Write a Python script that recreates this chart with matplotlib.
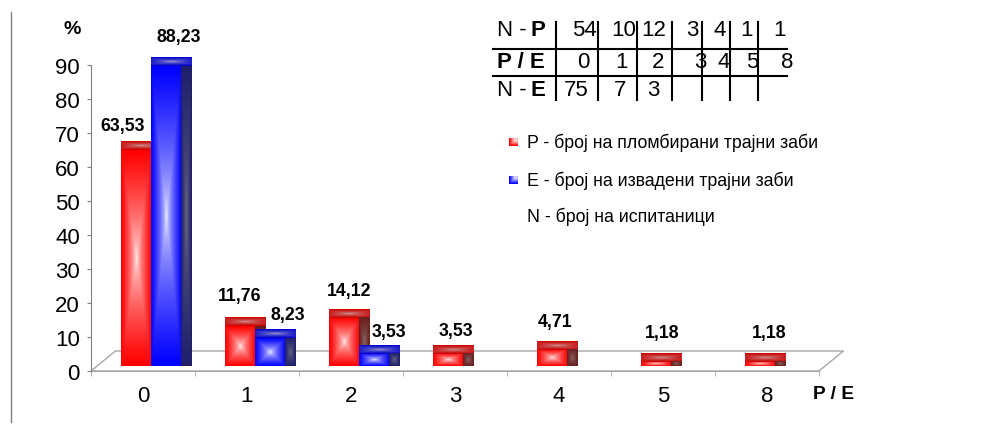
import numpy as np
import matplotlib
matplotlib.use("Agg")
import matplotlib.pyplot as plt
from matplotlib.patches import Polygon
from matplotlib.lines import Line2D

plt.rcParams["font.family"] = ["Liberation Sans", "DejaVu Sans"]

CATEGORIES = ["0", "1", "2", "3", "4", "5", "8"]
P_VALUES = [63.53, 11.76, 14.12, 3.53, 4.71, 1.18, 1.18]
E_VALUES = [88.23, 8.23, 3.53]
N_P = [54, 10, 12, 3, 4, 1, 1]
N_E = [75, 7, 3]
LEGEND_LABELS = [
    "P - број на пломбирани трајни заби",
    "E - број на извадени трајни заби",
    "N - број на испитаници",
]

W, H = 1003, 427
CAT_PX = 104.0    # width of one category on the front edge
VAL_PX = 3.4      # pixels per percent
AX_L, AX_R, AX_T, AX_B = 91, 870, 15, 372

fig = plt.figure(figsize=(W / 100, H / 100), dpi=100)


def fx(x):
    return x / W


def fy(y):
    return 1 - y / H


ax = fig.add_axes([fx(AX_L), fy(AX_B), (AX_R - AX_L) / W, (AX_B - AX_T) / H])
ax.set_xlim(-0.5, -0.5 + (AX_R - AX_L) / CAT_PX)
ax.set_ylim(0, (AX_B - AX_T) / VAL_PX)
ax.set_autoscale_on(False)

# floor depth vector and bar depth range (fractions of floor depth)
DX = 24.5 / CAT_PX
DY = 20.0 / VAL_PX
D0, D1 = 0.25, 0.67
BAR_W = 0.29
OFFSETS = [-0.275, 0.015]
BASES = [np.array([1.0, 0.0, 0.0]), np.array([0.0, 0.0, 1.0])]
n_cat = len(CATEGORIES)

# floor
floor = Polygon([(-0.5, 0), (n_cat - 0.5, 0), (n_cat - 0.5 + DX, DY), (-0.5 + DX, DY)],
                closed=True, facecolor="white", edgecolor="#a6a6a6", lw=1.0,
                zorder=1, clip_on=False)
ax.add_patch(floor)


def shade_rect(x0, y0, w, h, edge, centre, z, ku=1.0, kv=1.0, gamma=0.6, nx=40, ny=80):
    """Fill a rectangle with a from-centre gradient (centre colour in the middle)."""
    u, v = np.meshgrid(np.linspace(-1, 1, nx), np.linspace(-1, 1, ny))
    d = np.clip(np.maximum(np.abs(u) * ku, np.abs(v) * kv), 0, 1)
    g = (d ** gamma)[..., None]
    rgb = edge * g + centre * (1 - g)
    ax.imshow(np.clip(rgb, 0, 1), extent=[x0, x0 + w, y0, y0 + h], origin="lower",
              aspect="auto", interpolation="bilinear", zorder=z)


def draw_bar(x_left, value, base, z):
    bx = x_left + D0 * DX
    by = D0 * DY
    dxb = (D1 - D0) * DX
    dyb = (D1 - D0) * DY
    # front
    shade_rect(bx, by, BAR_W, value, base, np.ones(3), z)
    # top band
    shade_rect(bx, by + value, BAR_W + dxb, dyb,
               base * 0.8, 0.72 + base * 0.06, z, ku=0.7, gamma=0.5, ny=12)
    # right side
    shade_rect(bx + BAR_W, by, dxb, value,
               base * 0.3 + 0.12, 0.45 + base * 0.08, z, nx=12)


for s, values in enumerate([P_VALUES, E_VALUES]):
    for i, v in enumerate(values):
        draw_bar(i + OFFSETS[s], v, BASES[s], 3 + s)

# value labels (nudges in pixels from the category centre / top face)
P_NUDGE = [(-20, 16), (-7, 22), (-1.5, 19), (0.5, 15), (-3.5, 20), (-1, 21), (2, 21)]
E_NUDGE = [(36, 21), (41, 15), (38, 14.5)]
for values, nudges in [(P_VALUES, P_NUDGE), (E_VALUES, E_NUDGE)]:
    for i, v in enumerate(values):
        dx, dy = nudges[i]
        ax.annotate(f"{v:.2f}".replace(".", ","), xy=(i, v + D1 * DY),
                    xytext=(dx * 0.72, dy * 0.72), textcoords="offset points",
                    ha="center", va="center", fontsize=12.8, fontweight="bold",
                    zorder=10, annotation_clip=False)

# axes styling
for side in ["top", "right"]:
    ax.spines[side].set_visible(False)
ax.spines["left"].set_bounds(0, 90)
ax.spines["left"].set_color("#808080")
ax.spines["bottom"].set_bounds(-0.5, n_cat - 0.5)
ax.spines["bottom"].set_color("#a6a6a6")
ax.spines["bottom"].set_zorder(1)
ax.set_yticks(np.arange(0, 91, 10))
ax.tick_params(axis="y", direction="out", length=3, color="#808080", labelsize=16, pad=5)
ax.set_xticks(range(n_cat))
ax.set_xticklabels(CATEGORIES)
ax.set_xticks(np.arange(-0.5, n_cat, 1.0), minor=True)
ax.tick_params(axis="x", which="major", length=0, labelsize=16, pad=10)
ax.tick_params(axis="x", which="minor", direction="out", length=3.6, color="#a6a6a6")
ax.patch.set_visible(False)

fig.text(fx(72), fy(30), "%", ha="center", va="center", fontsize=14, fontweight="bold")
fig.text(fx(834), fy(395), "P / E", ha="center", va="center", fontsize=13.8, fontweight="bold")

# left frame line
fig.add_artist(Line2D([fx(11), fx(11)], [fy(13), fy(423)], color="#808080", lw=1))

# counts table
TFS = 16
for yy in [50, 76.7]:
    fig.add_artist(Line2D([fx(493), fx(787)], [fy(yy), fy(yy)], color="black", lw=1.5))
for xx in [556, 598, 637, 672, 702, 730, 758]:
    fig.add_artist(Line2D([fx(xx), fx(xx)], [fy(23), fy(101)], color="black", lw=1.5))

fig.text(fx(497), fy(31), "N - ", ha="left", va="center", fontsize=TFS)
fig.text(fx(531), fy(31), "P", ha="left", va="center", fontsize=TFS, fontweight="bold")
fig.text(fx(497), fy(63), "P / E", ha="left", va="center", fontsize=TFS, fontweight="bold")
fig.text(fx(497), fy(90), "N - ", ha="left", va="center", fontsize=TFS)
fig.text(fx(531), fy(90), "E", ha="left", va="center", fontsize=TFS, fontweight="bold")

NP_RIGHT = [597, 636, 666, 698, 726, 753, 786]
PE_RIGHT = [589, 628, 664, 706, 730, 758, 793]
NE_RIGHT = [589, 626, 659]
for val, xr in zip(N_P, NP_RIGHT):
    fig.text(fx(xr), fy(31), str(val), ha="right", va="center", fontsize=TFS)
for lab, xr in zip(CATEGORIES, PE_RIGHT):
    fig.text(fx(xr), fy(63), lab, ha="right", va="center", fontsize=TFS)
for val, xr in zip(N_E, NE_RIGHT):
    fig.text(fx(xr), fy(90), str(val), ha="right", va="center", fontsize=TFS)

# legend
LEG_Y = [143, 181, 217]
for k, base in enumerate(BASES):
    yy = LEG_Y[k]
    m_ax = fig.add_axes([fx(509), fy(yy + 4), 8 / W, 8 / H])
    gx, gy = np.meshgrid(np.linspace(0, 1, 16), np.linspace(0, 1, 16))
    d = np.clip(np.maximum(np.abs(gx - 0.75) * 1.4, np.abs(gy - 0.25) * 1.4), 0, 1)[..., None]
    m_ax.imshow(base * d + np.ones(3) * (1 - d), interpolation="bilinear", aspect="auto")
    m_ax.axis("off")
for k, lab in enumerate(LEGEND_LABELS):
    fig.text(fx(527), fy(LEG_Y[k]), lab, ha="left", va="center", fontsize=12.8)

fig.savefig("out.png", dpi=100)
